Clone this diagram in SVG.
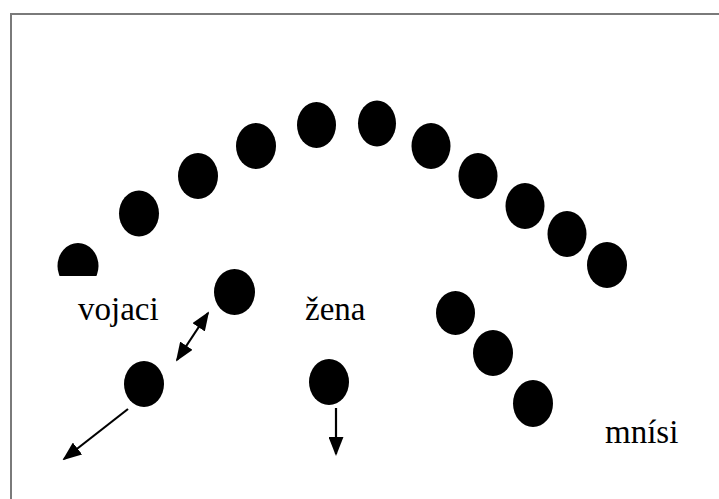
<svg xmlns="http://www.w3.org/2000/svg" width="719" height="499" viewBox="0 0 719 499">
<defs>
<marker id="ah2" viewBox="0 0 10 10" refX="9" refY="5" markerWidth="19" markerHeight="15" markerUnits="userSpaceOnUse" orient="auto-start-reverse" preserveAspectRatio="none">
<path d="M0,0 L10,5 L0,10 z" fill="#000"/>
</marker>
<clipPath id="clip1"><rect x="40" y="230" width="80" height="46"/></clipPath>
</defs>
<style>
.dot{fill:#000}
.lbl{font-family:'Liberation Serif','DejaVu Serif','Times New Roman',serif;font-size:33px;fill:#000}
.con{stroke:#000;stroke-width:2.2;fill:none}
.frame{stroke:#7a7a7a;stroke-width:2;fill:none}
</style>
<rect width="719" height="499" fill="#fff"/>
<path class="frame" d="M11,499 L11,14 L719,14"/>
<g id="arc">
<g id="d1" clip-path="url(#clip1)"><ellipse class="dot" cx="78" cy="266" rx="20.5" ry="23"/></g>
<g id="d2"><ellipse class="dot" cx="139" cy="213.5" rx="20" ry="23"/></g>
<g id="d3"><ellipse class="dot" cx="198" cy="176" rx="20" ry="23"/></g>
<g id="d4"><ellipse class="dot" cx="256" cy="146" rx="20" ry="23"/></g>
<g id="d5"><ellipse class="dot" cx="316.5" cy="125" rx="19.5" ry="23"/></g>
<g id="d6"><ellipse class="dot" cx="377" cy="123.5" rx="19" ry="23"/></g>
<g id="d7"><ellipse class="dot" cx="431" cy="146" rx="19.5" ry="23"/></g>
<g id="d8"><ellipse class="dot" cx="478" cy="176" rx="19.5" ry="23"/></g>
<g id="d9"><ellipse class="dot" cx="525" cy="206" rx="19.5" ry="23"/></g>
<g id="d10"><ellipse class="dot" cx="567" cy="234" rx="19.5" ry="23"/></g>
<g id="d11"><ellipse class="dot" cx="607" cy="265" rx="20" ry="23"/></g>
</g>
<g id="soldiers">
<g id="s1"><ellipse class="dot" cx="234.5" cy="292" rx="20.5" ry="23"/></g>
<g id="s2"><ellipse class="dot" cx="144" cy="384" rx="20" ry="23"/></g>
</g>
<g id="woman"><ellipse class="dot" cx="329" cy="382" rx="20" ry="23"/></g>
<g id="monks">
<g id="m1"><ellipse class="dot" cx="455.5" cy="313" rx="19.5" ry="22"/></g>
<g id="m2"><ellipse class="dot" cx="493" cy="353" rx="20" ry="23"/></g>
<g id="m3"><ellipse class="dot" cx="533" cy="403.5" rx="20" ry="23.5"/></g>
</g>
<g id="labels">
<text class="lbl" x="78" y="320">vojaci</text>
<text class="lbl" x="305" y="320">žena</text>
<text class="lbl" x="605" y="443">mnísi</text>
</g>
<g id="connectors">
<line class="con" x1="177" y1="360" x2="208" y2="313" marker-start="url(#ah2)" marker-end="url(#ah2)"/>
<line class="con" x1="128" y1="409" x2="64" y2="459" marker-end="url(#ah2)"/>
<line class="con" x1="336" y1="408" x2="336" y2="454" marker-end="url(#ah2)"/>
</g>
</svg>
